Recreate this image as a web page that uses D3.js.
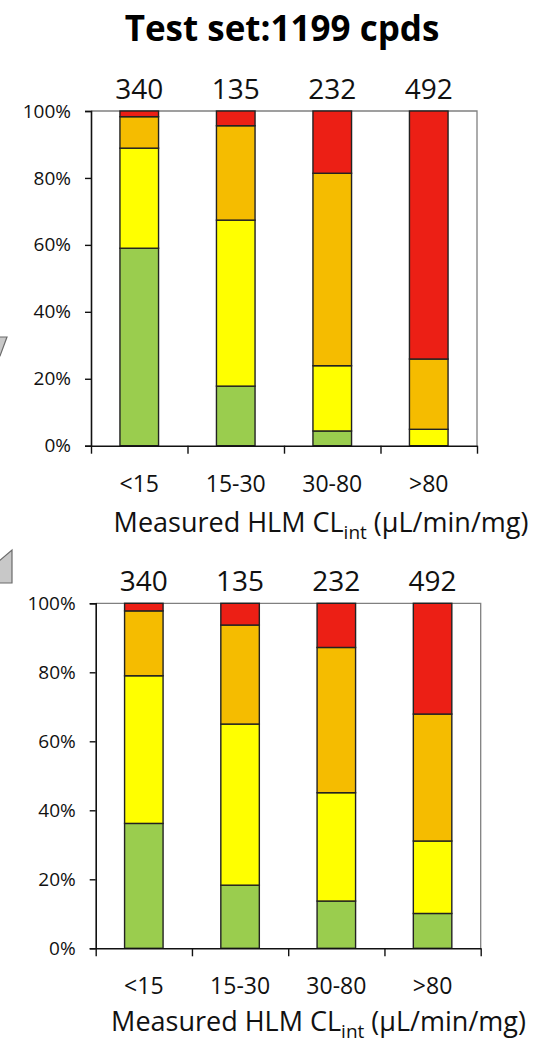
<!DOCTYPE html>
<html>
<head>
<meta charset="utf-8">
<script src="https://cdn.jsdelivr.net/npm/d3@7"></script>
<style>
  body { margin: 0; background: #fff; }
  svg { display: block; font-family: "Open Sans", sans-serif; }
</style>
</head>
<body>
<svg id="chart" width="536" height="1044"></svg>
<script>
const categories = ["<15", "15-30", "30-80", ">80"];
const counts = [340, 135, 232, 492];
const yTicks = [0, 20, 40, 60, 80, 100];
const classes = ["green", "yellow", "orange", "red"];
const classColors = ["#9ACD4E", "#FFFF00", "#F5BC00", "#EC1F15"];

// top panel, % of compounds per class
const topGreen = [59.0, 17.8, 4.4, 0];
const topYellow = [29.9, 49.6, 19.5, 4.9];
const topOrange = [9.4, 28.2, 57.5, 21.0];
const topRed = [1.7, 4.4, 18.6, 74.1];

// bottom panel
const bottomGreen = [36.2, 18.3, 13.7, 10.1];
const bottomYellow = [42.8, 46.7, 31.4, 21.0];
const bottomOrange = [18.8, 28.7, 42.1, 36.8];
const bottomRed = [2.2, 6.3, 12.8, 32.1];

const svg = d3.select("#chart");

// title
svg.append("text")
  .attr("x", 282).attr("y", 41)
  .attr("text-anchor", "middle")
  .style("font-weight", "bold").style("font-size", "35px")
  .text("Test set:1199 cpds");

// grey arrow bits cut off at the left edge
svg.append("path")
  .attr("d", "M-2,337 L7,337 L0,356 L-2,356 Z")
  .attr("fill", "#c8c8c8").attr("stroke", "#6b6b6b").attr("stroke-width", 1.2);
svg.append("path")
  .attr("d", "M-2,562 L12,550 L12,583 L-2,583 Z")
  .attr("fill", "#c8c8c8").attr("stroke", "#6b6b6b").attr("stroke-width", 1.2);

function drawPanel(series, box) {
  var rows = categories.map(function(c, i) {
    var r = {cat: c};
    classes.forEach(function(k, j) { r[k] = series[j][i]; });
    return r;
  });
  var stacked = d3.stack().keys(classes)(rows);

  var x = d3.scaleBand().domain(categories)
    .range([box.left, box.right]).paddingInner(0.6).paddingOuter(0.3);
  var xb = d3.scaleLinear().domain([0, categories.length]).range([box.left, box.right]);
  var y = d3.scaleLinear().domain([0, 100]).range([box.bottom, box.top]);

  var g = svg.append("g");

  // plot frame, top and right
  g.append("path")
    .attr("d", "M" + box.left + "," + box.top + "H" + box.right + "V" + box.bottom)
    .attr("fill", "none").attr("stroke", "#808080").attr("stroke-width", 1.3);

  g.selectAll("g.layer")
    .data(stacked)
    .enter().append("g")
    .attr("class", "layer")
    .attr("fill", function(d, i) { return classColors[i]; })
    .selectAll("rect")
    .data(function(d) { return d.filter(function(s) { return s[1] - s[0] > 0; }); })
    .enter().append("rect")
    .attr("x", function(d) { return x(d.data.cat); })
    .attr("width", x.bandwidth())
    .attr("y", function(d) { return y(d[1]); })
    .attr("height", function(d) { return y(d[0]) - y(d[1]); })
    .attr("stroke", "#222").attr("stroke-width", 1.4);

  // y axis
  var ya = g.append("g")
    .attr("transform", "translate(" + box.left + ",0)")
    .call(d3.axisLeft(y).tickValues(yTicks).tickFormat(function(d) { return d + "%"; }).tickSize(6).tickPadding(14));
  ya.select(".domain").attr("stroke", "#111").attr("stroke-width", 1.6);
  ya.selectAll(".tick line").attr("stroke", "#111").attr("stroke-width", 1.4);
  ya.selectAll("text").style("font-size", "19px").attr("fill", "#111").style("font-family", "Open Sans");

  // x axis, ticks at category boundaries
  var xa = g.append("g")
    .attr("transform", "translate(0," + box.bottom + ")")
    .call(d3.axisBottom(xb).tickValues(d3.range(categories.length + 1)).tickFormat("").tickSizeInner(8).tickSizeOuter(0));
  xa.select(".domain").attr("stroke", "#111").attr("stroke-width", 1.6);
  xa.selectAll(".tick line").attr("stroke", "#111").attr("stroke-width", 1.4);

  var xl = g.append("g")
    .attr("transform", "translate(0," + box.bottom + ")")
    .call(d3.axisBottom(x).tickSize(0).tickPadding(box.labelGap));
  xl.select(".domain").remove();
  xl.selectAll("text").style("font-size", "23px").attr("fill", "#111").style("font-family", "Open Sans");

  // counts above bars
  g.selectAll("text.count")
    .data(counts)
    .enter().append("text")
    .attr("class", "count")
    .attr("x", function(d, i) { return x(categories[i]) + x.bandwidth() / 2; })
    .attr("y", box.top - 12)
    .attr("text-anchor", "middle")
    .style("font-size", "28px").attr("fill", "#111")
    .text(function(d) { return d; });

  // axis title with subscript
  var t = g.append("text")
    .attr("x", box.titleX).attr("y", box.titleY)
    .attr("text-anchor", "middle")
    .style("font-size", "27px").attr("fill", "#111");
  t.append("tspan").text("Measured HLM CL");
  t.append("tspan").attr("dy", 7).style("font-size", "19px").text("int");
  t.append("tspan").attr("dy", -7).text(" (µL/min/mg)");
}

drawPanel([topGreen, topYellow, topOrange, topRed],
  {left: 91, right: 477, top: 111, bottom: 445.7, labelGap: 30, titleX: 321, titleY: 532});
drawPanel([bottomGreen, bottomYellow, bottomOrange, bottomRed],
  {left: 95.7, right: 480.7, top: 603.3, bottom: 948.3, labelGap: 29, titleX: 318.5, titleY: 1031});
</script>
</body>
</html>
